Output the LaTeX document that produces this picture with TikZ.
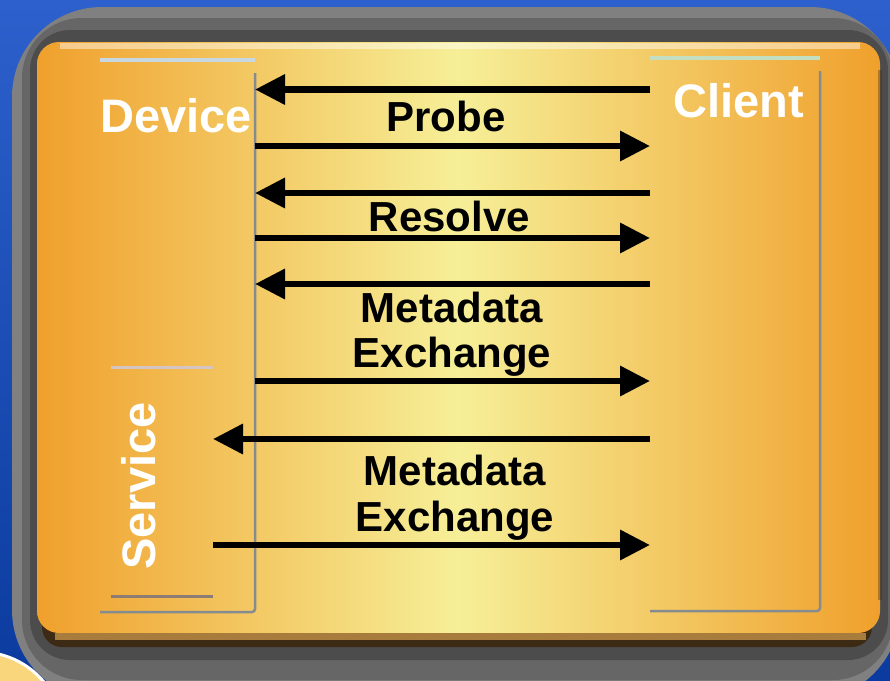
\documentclass[tikz,border=0pt]{standalone}
\usepackage{fontspec}
\setmainfont{Liberation Sans}
\usetikzlibrary{arrows.meta, positioning}
\definecolor{bgtop}{HTML}{2D60CC}
\definecolor{bgbot}{HTML}{0B3B9E}
\definecolor{discyel}{HTML}{F9D57C}
\definecolor{panelor}{HTML}{F0A02C}
\definecolor{panelye}{HTML}{F6EF98}
\definecolor{bandbrown}{HTML}{A87C3C}
\definecolor{darkbrown}{HTML}{3C2A14}
\definecolor{devtop}{HTML}{C8D8E2}
\definecolor{clitop}{HTML}{C4DEC2}
\definecolor{srvtop}{HTML}{D4C4C4}
\definecolor{srvbot}{HTML}{8C7C74}
\definecolor{laneline}{HTML}{858C90}
\tikzset{msg/.style={line width=6.5pt,-{Triangle[length=30pt,width=29pt]}},
         lbl/.style={font=\fontsize{42}{45}\selectfont\bfseries,inner sep=0pt,anchor=base},
         head/.style={font=\fontsize{47}{50}\selectfont\bfseries,text=white,inner sep=0pt,anchor=base west},
         lane/.style={inner sep=0pt,outer sep=0pt},
        }

\begin{document}
\begin{tikzpicture}[x=1pt,y=-1pt]
        \useasboundingbox (0,0) rectangle (890,680);
        \shade[top color=bgtop,bottom color=bgbot] (0,0) rectangle (890,680);
        \filldraw[fill=discyel,draw=white,line width=3pt] (-20,735) circle (83pt);

        % shadow and panel
        \fill[black!50,rounded corners=90pt] (12,7) rectangle (900,700);
        \fill[black!60,rounded corners=60pt] (22,18) rectangle (893,680);
        \fill[black!70,rounded corners=40pt] (30,30) rectangle (888,660);
        \fill[darkbrown,rounded corners=20pt] (42,600) rectangle (872,647);
        \shade[left color=panelor,right color=panelor,middle color=panelye,rounded corners=22pt] (37,42) rectangle (880,633);
        \fill[bandbrown] (55,633) rectangle (866,640);
        \draw[white,opacity=0.45,line width=6pt] (60,46) -- (860,46);
        \draw[darkbrown,opacity=0.35,line width=4pt] (880,70) -- (880,600);

        % lanes
        \node[lane,minimum width=155pt,minimum height=552pt](device)at(177.5,336){};
        \node[lane,minimum width=102pt,minimum height=229pt](service)at(162,481.5){};
        \node[lane,minimum width=170pt,minimum height=553pt](client)at(735,334.5){};

        \draw[devtop,line width=4pt](device.north west)--(device.north east);
        \draw[laneline,line width=2.5pt,rounded corners=3pt]([yshift=-13pt]device.north east)--(device.south east)--(device.south west);
        \draw[clitop,line width=4pt](client.north west)--(client.north east);
        \draw[laneline,line width=2.5pt,rounded corners=3pt]([yshift=-13pt]client.north east)--(client.south east)--(client.south west);
        \draw[srvtop,line width=3pt](service.north west)--(service.north east);
        \draw[srvbot,line width=3pt](service.south west)--(service.south east);

        \node[head](devname)at(100,132){Device};
        \node[head](cliname)at(673,117){Client};
        \node[head,rotate=90,anchor=center](srvname)at(139,486){Service};

        % messages
        \node[lbl](probe)at(446,131){Probe};
        \node[lbl](resolve)at(449.5,231){Resolve};
        \node[lbl](meta1)at(452,322){Metadata};
        \node[lbl](exch1)at(452,367){Exchange};
        \node[lbl](meta2)at(455,485){Metadata};
        \node[lbl](exch2)at(455,531){Exchange};

        \draw[msg](client.west |- 0,89.5)--(device.east |- 0,89.5);
        \draw[msg](device.east |- 0,146)--(client.west |- 0,146);
        \draw[msg](client.west |- 0,193)--(device.east |- 0,193);
        \draw[msg](device.east |- 0,238)--(client.west |- 0,238);
        \draw[msg](client.west |- 0,284)--(device.east |- 0,284);
        \draw[msg](device.east |- 0,381)--(client.west |- 0,381);
        \draw[msg](client.west |- 0,439)--(service.east |- 0,439);
        \draw[msg](service.east |- 0,545)--(client.west |- 0,545);
    \end{tikzpicture}
\end{document}
